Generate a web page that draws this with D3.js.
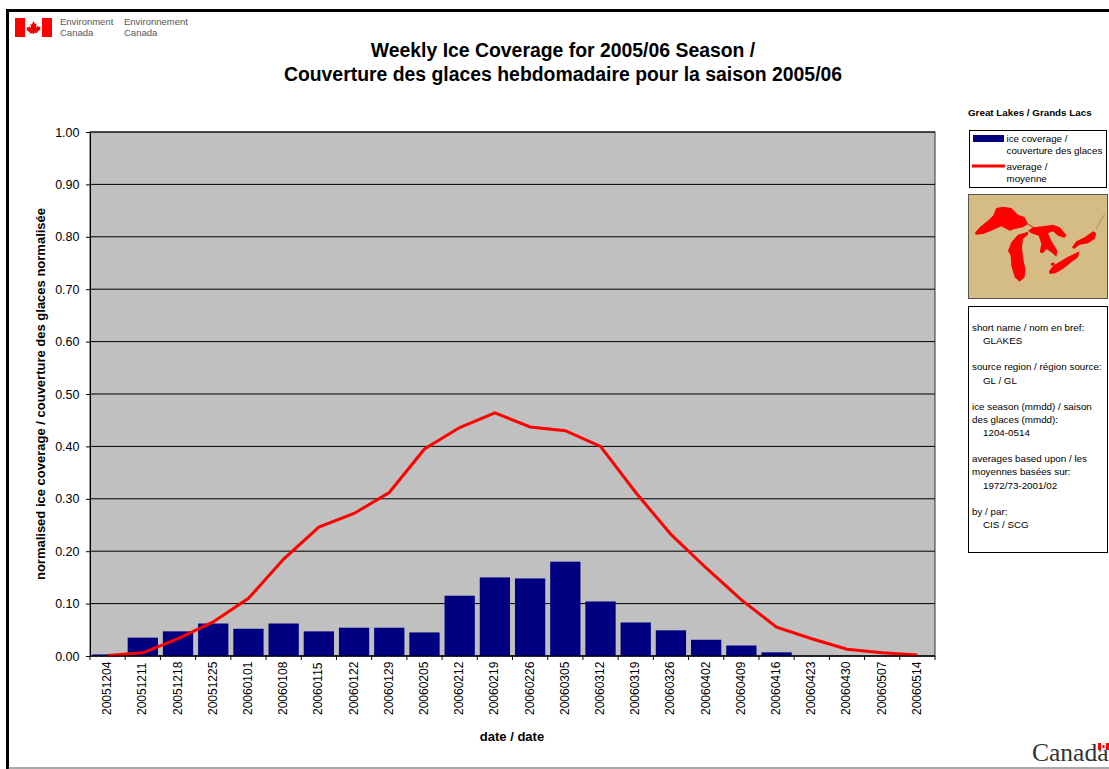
<!DOCTYPE html>
<html><head><meta charset="utf-8"><script src="https://cdn.jsdelivr.net/npm/d3@7"></script>
<style>html,body{margin:0;padding:0;background:#fff}svg{display:block}text{font-family:"Liberation Sans",Arial,sans-serif;fill:#000}</style></head>
<body><script>
const dates=["20051204","20051211","20051218","20051225","20060101","20060108","20060115","20060122","20060129","20060205","20060212","20060219","20060226","20060305","20060312","20060319","20060326","20060402","20060409","20060416","20060423","20060430","20060507","20060514"];
const iceCoverage=[0.003,0.035,0.047,0.062,0.052,0.062,0.047,0.054,0.054,0.045,0.115,0.150,0.148,0.180,0.104,0.064,0.049,0.031,0.020,0.007,0,0,0,0];
const average=[0.001,0.006,0.033,0.065,0.110,0.185,0.246,0.272,0.312,0.395,0.436,0.464,0.437,0.430,0.400,0.312,0.232,0.168,0.107,0.055,0.033,0.013,0.006,0.002];
const yTicks=[0,0.1,0.2,0.3,0.4,0.5,0.6,0.7,0.8,0.9,1.0];
const infoLines=[["short name / nom en bref:",0],["GLAKES",1],["",0],["source region / région source:",0],["GL / GL",1],["",0],["ice season (mmdd) / saison",0],["des glaces (mmdd):",0],["1204-0514",1],["",0],["averages based upon / les",0],["moyennes basées sur:",0],["1972/73-2001/02",1],["",0],["by / par:",0],["CIS / SCG",1]];
const W=1109,H=769,m={l:90,r:935,t:132,b:656};
const svg=d3.select("body").append("svg").attr("width",W).attr("height",H);
const defs=svg.append("defs");
defs.append("filter").attr("id","soft").append("feGaussianBlur").attr("stdDeviation",1.500);
// frame
svg.append("path").attr("d",`M7.500 ${H}V10.500H${W}`).attr("fill","none").attr("stroke","#000").attr("stroke-width",3);
svg.append("line").attr("x1",8).attr("x2",W).attr("y1",768).attr("y2",768).attr("stroke","#555").attr("stroke-width",1);
// header
const logo=svg.append("g");
logo.append("rect").attr("x",15).attr("y",18).attr("width",37).attr("height",19).attr("fill","#fff");
logo.append("rect").attr("x",15).attr("y",18).attr("width",10).attr("height",19).attr("fill","#f00");
logo.append("rect").attr("x",42).attr("y",18).attr("width",10).attr("height",19).attr("fill","#f00");
logo.append("path").attr("d","M33.500 21l1.600 3 1.500-.6-.6 4 2-1.600.6 1.300 2-.3-.7 2 .7.500-3.500 2.600.4 1.200-3.400-.4V34h-1.200v-.8l-3.400.4.4-1.200-3.500-2.600.7-.5-.7-2 2 .3.600-1.300 2 1.600-.6-4 1.500.6z").attr("fill","#e00");
[["Environment",60,25],["Canada",60,36],["Environnement",124,25],["Canada",124,36]].forEach(d=>logo.append("text").attr("x",d[1]).attr("y",d[2]).attr("font-size",9.500).style("fill","#555").text(d[0]));
svg.append("text").attr("x",563).attr("y",57).attr("text-anchor","middle").attr("font-size",19.400).attr("font-weight","bold").text("Weekly Ice Coverage for 2005/06 Season /");
svg.append("text").attr("x",563).attr("y",81).attr("text-anchor","middle").attr("font-size",19.400).attr("font-weight","bold").text("Couverture des glaces hebdomadaire pour la saison 2005/06");
// plot
const x=d3.scaleBand().domain(dates).range([m.l,m.r]).paddingInner(0.14).paddingOuter(0.07);
const xp=d3.scalePoint().domain(dates).range([m.l,m.r]).padding(0.5);
const y=d3.scaleLinear().domain([0,1]).range([m.b,m.t]);
svg.append("rect").attr("x",m.l).attr("y",m.t).attr("width",m.r-m.l).attr("height",m.b-m.t).attr("fill","#c0c0c0").attr("stroke","#333");
svg.append("g").selectAll("line").data(yTicks).join("line").attr("x1",m.l).attr("x2",m.r).attr("y1",d=>y(d)).attr("y2",d=>y(d)).attr("stroke","#000").attr("stroke-width",1);
svg.append("g").selectAll("rect").data(dates).join("rect").attr("x",d=>x(d)).attr("width",x.bandwidth()).attr("y",(d,i)=>y(iceCoverage[i])).attr("height",(d,i)=>y(0)-y(iceCoverage[i])).attr("fill","#000080");
svg.append("path").datum(average).attr("d",d3.line().x((d,i)=>xp(dates[i])).y(d=>y(d))).attr("fill","none").attr("stroke","#f00").attr("stroke-width",3);
const ya=svg.append("g").attr("transform",`translate(${m.l},0)`).call(d3.axisLeft(y).tickValues(yTicks).tickFormat(d3.format(".2f")).tickSize(4).tickPadding(6.500));
ya.selectAll("text").attr("font-size",12.500).style("font-family","Liberation Sans");
ya.selectAll("path,line").attr("stroke","#000");
const band=(m.r-m.l)/dates.length;
const xa=svg.append("g").attr("transform",`translate(0,${m.b})`);
xa.append("line").attr("x1",m.l).attr("x2",m.r).attr("stroke","#000");
xa.selectAll("line.t").data(d3.range(dates.length+1)).join("line").attr("class","t").attr("x1",d=>m.l+d*band).attr("x2",d=>m.l+d*band).attr("y1",0).attr("y2",4).attr("stroke","#000");
xa.selectAll("text").data(dates).join("text").attr("transform",d=>`translate(${xp(d)+3.500},${59})rotate(-90)`).attr("font-size",12).text(d=>d);
svg.append("text").attr("x",512).attr("y",741).attr("text-anchor","middle").attr("font-size",13).attr("font-weight","bold").text("date / date");
svg.append("text").attr("transform","translate(45,394)rotate(-90)").attr("text-anchor","middle").attr("font-size",13).attr("font-weight","bold").text("normalised ice coverage / couverture des glaces normalisée");
// side
svg.append("text").attr("x",968).attr("y",116).attr("font-size",9.800).attr("font-weight","bold").text("Great Lakes / Grands Lacs");
svg.append("rect").attr("x",969.500).attr("y",130.500).attr("width",137).attr("height",57).attr("fill","#fff").attr("stroke","#000");
svg.append("rect").attr("x",973).attr("y",135).attr("width",31).attr("height",7).attr("fill","#000080");
svg.append("line").attr("x1",972).attr("x2",1005).attr("y1",166).attr("y2",166).attr("stroke","#f00").attr("stroke-width",3);
[["ice coverage /",1006.500,142],["couverture des glaces",1006.500,154],["average /",1006.500,170],["moyenne",1006.500,182]].forEach(d=>svg.append("text").attr("x",d[1]).attr("y",d[2]).attr("font-size",9.800).text(d[0]));
svg.append("rect").attr("x",968.500).attr("y",194.500).attr("width",139).attr("height",104).attr("fill","#d4bc84").attr("stroke","#555");
const lakes=[
[[20,118],[35,100],[62,78],[75,65],[85,42],[105,38],[130,42],[150,62],[170,70],[180,90],[165,100],[140,105],[125,110],[100,97],[75,108],[45,120],[25,122]],
[[120,170],[130,145],[150,122],[180,113],[180,122],[165,135],[162,160],[165,190],[172,225],[170,250],[155,263],[140,250],[130,215],[128,185]],
[[180,110],[195,100],[225,97],[255,92],[275,100],[295,122],[290,132],[270,125],[255,112],[240,118],[250,140],[268,170],[265,188],[250,175],[235,165],[225,178],[215,175],[220,150],[212,125],[190,118]],
[[243,232],[255,215],[280,200],[300,188],[335,172],[330,190],[310,205],[285,225],[262,238],[245,240]],
[[312,160],[325,142],[350,130],[375,112],[385,118],[380,135],[360,148],[335,152],[318,165]],
[[248,208],[258,205],[260,213],[250,215]]];
const mapG=svg.append("g").attr("transform","translate(968,194)scale(0.33333)").attr("filter","url(#soft)");
mapG.append("path").attr("d",d3.line()([[180,90],[195,100]])).attr("stroke","#c8502a").attr("stroke-width",4).attr("fill","none");
mapG.append("path").attr("d",d3.line()([[385,105],[395,85],[410,60]])).attr("stroke","#b9a070").attr("stroke-width",4).attr("fill","none");
mapG.selectAll("path.lake").data(lakes).join("path").attr("class","lake").attr("d",d=>d3.line()(d)+"Z").attr("fill","#f00");
svg.append("rect").attr("x",968.500).attr("y",306.500).attr("width",139).attr("height",246).attr("fill","#fff").attr("stroke","#000");
const ly=d3.scaleLinear().domain([0,1]).range([331,344.130]);
svg.append("g").selectAll("text").data(infoLines).join("text").attr("x",d=>d[1]?983:972).attr("y",(d,i)=>ly(i)).attr("font-size",9.800).text(d=>d[0]);
// wordmark
svg.append("text").attr("x",1032).attr("y",761).attr("font-size",25.500).style("font-family","Liberation Serif").style("fill","#333").text("Canada");
svg.append("rect").attr("x",1098).attr("y",743).attr("width",11).attr("height",7).attr("fill","#f00");
svg.append("rect").attr("x",1101).attr("y",743).attr("width",5).attr("height",7).attr("fill","#fff");
svg.append("rect").attr("x",1102.500).attr("y",745).attr("width",2).attr("height",3).attr("fill","#f00");
</script></body></html>
